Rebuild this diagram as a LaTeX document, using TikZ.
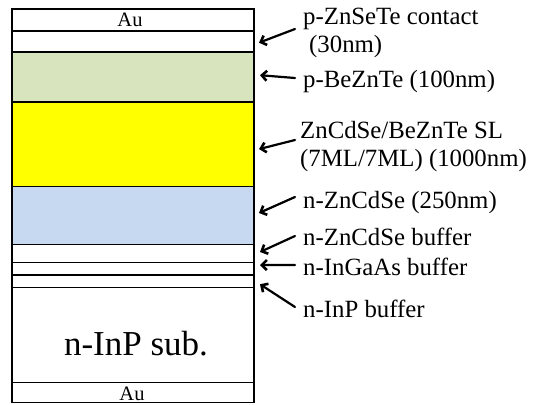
\documentclass[tikz,border=0pt]{standalone}
\usepackage{fontspec}
\setmainfont{Liberation Serif}
\usetikzlibrary{arrows.meta}
\definecolor{beznte}{HTML}{D7E4BD}
\definecolor{slyellow}{HTML}{FFFF00}
\definecolor{zncdse}{HTML}{C6D9F1}
\begin{document}
\begin{tikzpicture}[x=1pt,y=-1pt,
  layerbox/.style={draw=black, line width=1.8pt, minimum width=242pt,
    inner sep=0pt, anchor=north west, outer sep=0pt},
  lbl/.style={font=\fontsize{24.8}{27}\selectfont, anchor=base west, inner sep=0pt},
  aulbl/.style={font=\fontsize{20.5}{22}\selectfont, anchor=base, inner sep=0pt},
  arr/.style={line width=2.2pt, line cap=round,
    -{Straight Barb[length=5pt,width=10pt,line width=2.6pt]}}]
\useasboundingbox (0,0) rectangle (535,404);

% layer stack, top to bottom
\node[layerbox, minimum height=21.7pt] (autop) at (12,9) {};
\node[layerbox, minimum height=21pt] (cap) at (12,30.7) {};
\node[layerbox, minimum height=50pt, fill=beznte] (clad) at (12,51.7) {};
\node[layerbox, minimum height=84.8pt, fill=slyellow] (sl) at (12,101.7) {};
\node[layerbox, minimum height=58pt, fill=zncdse] (nzn) at (12,186.5) {};
\node[layerbox, minimum height=18pt] (znbuf) at (12,244.5) {};
\node[layerbox, minimum height=12.5pt] (gabuf) at (12,262.5) {};
\node[layerbox, minimum height=12.5pt] (inpbuf) at (12,275) {};
\node[layerbox, minimum height=95pt] (sub) at (12,287.5) {};
\node[layerbox, minimum height=20pt] (aubot) at (12,382.5) {};

% texts inside the stack
\node[aulbl] (autxt) at (130,27) {Au};
\node[font=\fontsize{35}{38}\selectfont, anchor=base, inner sep=0pt] (subtxt) at (136,355) {n-InP sub.};
\node[aulbl] (aubtxt) at (132,400.5) {Au};

% layer names
\node[lbl] (l1a) at (303,25) {p-ZnSeTe contact};
\node[lbl] (l1b) at (309,52.5) {(30nm)};
\node[lbl] (l2) at (303,88) {p-BeZnTe (100nm)};
\node[lbl] (l3a) at (300,138) {ZnCdSe/BeZnTe SL};
\node[lbl] (l3b) at (300,166) {(7ML/7ML) (1000nm)};
\node[lbl] (l4) at (303,208) {n-ZnCdSe (250nm)};
\node[lbl] (l5) at (303,245) {n-ZnCdSe buffer};
\node[lbl] (l6) at (303,275) {n-InGaAs buffer};
\node[lbl] (l7) at (303,317) {n-InP buffer};

% arrow tails
\coordinate (t1) at (295,29);
\coordinate (t2) at (295,78);
\coordinate (t3) at (295,140);
\coordinate (t4) at (295,197);
\coordinate (t5) at (295,236);
\coordinate (t6) at (295,265);
\coordinate (t7) at (295,307);

% pointers to the layers
\draw[arr] (t1) -- ([xshift=5pt,yshift=-1.5pt]cap.east);
\draw[arr] (t2) -- ([xshift=6pt,yshift=1.5pt]clad.east);
\draw[arr] (t3) -- ([xshift=5pt,yshift=-5pt]sl.east);
\draw[arr] (t4) -- ([xshift=5pt,yshift=2.5pt]nzn.east);
\draw[arr] (t5) -- ([xshift=6pt,yshift=1.5pt]znbuf.east);
\draw[arr] (t6) -- ([xshift=6pt,yshift=3.7pt]gabuf.east);
\draw[arr] (t7) -- ([xshift=6pt,yshift=-3pt]inpbuf.east);
\end{tikzpicture}
\end{document}
